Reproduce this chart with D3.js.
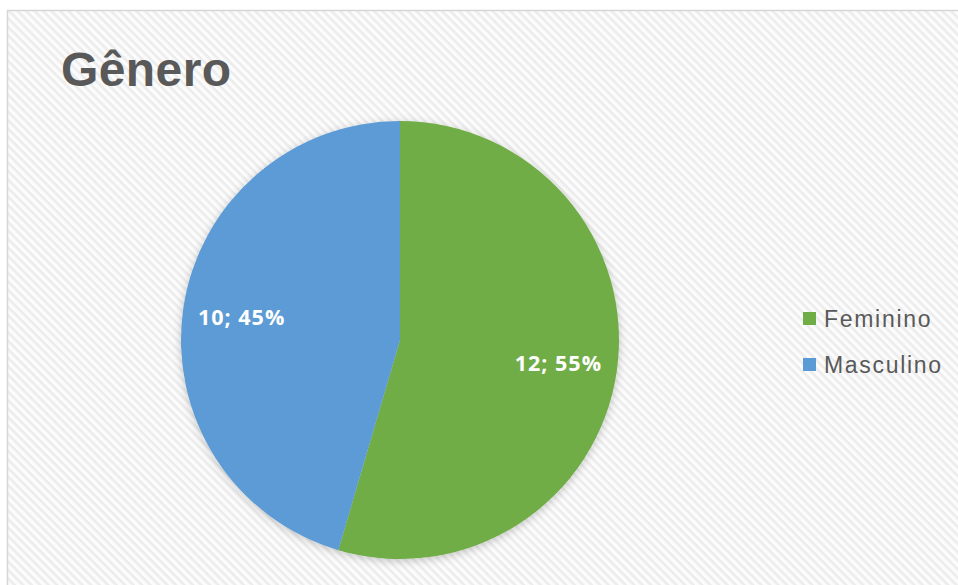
<!DOCTYPE html>
<html>
<head>
<meta charset="utf-8">
<script src="https://cdn.jsdelivr.net/npm/d3@7"></script>
<style>
  html, body { margin: 0; padding: 0; background: #ffffff; }
  svg { display: block; }
</style>
</head>
<body>
<svg id="chart" width="958" height="585"></svg>
<script>
// Gender breakdown
const categories = ["Feminino", "Masculino"];
const counts = [12, 10];
const percents = ["55%", "45%"];
const colors = ["#70AD47", "#5B9BD5"];
const title = "Gênero";

const svg = d3.select("#chart");
const W = 958, H = 585;

const defs = svg.append("defs");

// faint diagonal hatch behind the plot
const pat = defs.append("pattern")
  .attr("id", "hatch")
  .attr("patternUnits", "userSpaceOnUse")
  .attr("width", 6).attr("height", 6)
  .attr("patternTransform", "rotate(45)");
pat.append("rect").attr("width", 6).attr("height", 6).attr("fill", "#fcfcfc");
pat.append("rect").attr("width", 6).attr("height", 2.6).attr("fill", "#ececec");

// soft shadow under the pie
const f = defs.append("filter").attr("id", "shadow")
  .attr("x", "-20%").attr("y", "-20%").attr("width", "140%").attr("height", "140%");
f.append("feDropShadow")
  .attr("dx", 0).attr("dy", 2)
  .attr("stdDeviation", 4)
  .attr("flood-color", "#000")
  .attr("flood-opacity", 0.22);

// chart area
svg.append("rect")
  .attr("x", 7.5).attr("y", 10.5)
  .attr("width", W + 10).attr("height", H + 10)
  .attr("fill", "url(#hatch)")
  .attr("stroke", "#d6d6d6")
  .attr("stroke-width", 1.5);

// title
svg.append("text")
  .attr("x", 61).attr("y", 86)
  .attr("font-family", "Liberation Sans, Arial, sans-serif")
  .attr("font-weight", "bold")
  .attr("font-size", 48)
  .attr("letter-spacing", 0.4)
  .attr("fill", "#595959")
  .text(title);

// pie
const cx = 400, cy = 340, R = 219;
const data = categories.map((c, i) => ({ name: c, value: counts[i], pct: percents[i], color: colors[i] }));

const pie = d3.pie().sort(null).value(d => d.value);
const arc = d3.arc().innerRadius(0).outerRadius(R);
const labelArc = d3.arc().innerRadius(160).outerRadius(160);

const g = svg.append("g").attr("transform", `translate(${cx},${cy})`);
const arcs = pie(data);

g.append("g").attr("filter", "url(#shadow)")
  .selectAll("path")
  .data(arcs)
  .join("path")
  .attr("d", arc)
  .attr("fill", d => d.data.color);

g.selectAll("text.lbl")
  .data(arcs)
  .join("text")
  .attr("class", "lbl")
  .attr("transform", d => `translate(${labelArc.centroid(d)})`)
  .attr("text-anchor", "middle")
  .attr("dy", "0.36em")
  .attr("font-family", "Open Sans, sans-serif")
  .attr("font-weight", "bold")
  .attr("font-size", 21.5)
  .attr("letter-spacing", 1)
  .attr("fill", "#ffffff")
  .text(d => `${d.data.value}; ${d.data.pct}`);

// legend
const legend = svg.append("g").attr("transform", "translate(803,0)");
const ly = d3.scalePoint().domain(categories).range([318.5, 364.5]);
const items = legend.selectAll("g")
  .data(data)
  .join("g")
  .attr("transform", d => `translate(0,${ly(d.name)})`);
items.append("rect")
  .attr("x", 0).attr("y", -6.5)
  .attr("width", 13).attr("height", 13)
  .attr("fill", d => d.color);
items.append("text")
  .attr("x", 21).attr("y", 8)
  .attr("font-family", "Liberation Sans, Arial, sans-serif")
  .attr("font-size", 23)
  .attr("letter-spacing", 1.7)
  .attr("fill", "#595959")
  .text(d => d.name);
</script>
</body>
</html>
